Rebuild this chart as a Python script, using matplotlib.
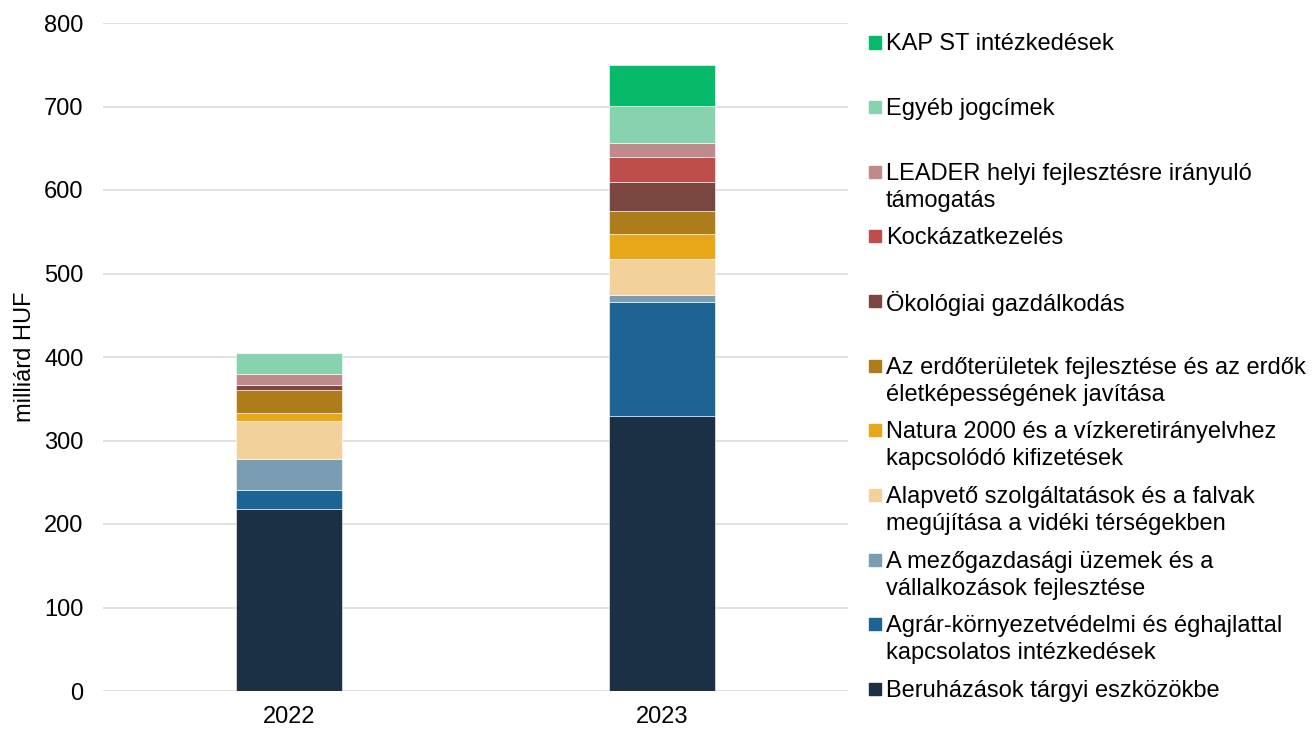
import matplotlib
matplotlib.use("Agg")
import matplotlib.pyplot as plt
from matplotlib.patches import Rectangle
import numpy as np

plt.rcParams['font.family'] = ['Liberation Sans', 'DejaVu Sans']

years = ["2022", "2023"]
series_names = [
    "Beruházások tárgyi eszközökbe",
    "Agrár-környezetvédelmi és éghajlattal\nkapcsolatos intézkedések",
    "A mezőgazdasági üzemek és a\nvállalkozások fejlesztése",
    "Alapvető szolgáltatások és a falvak\nmegújítása a vidéki térségekben",
    "Natura 2000 és a vízkeretirányelvhez\nkapcsolódó kifizetések",
    "Az erdőterületek fejlesztése és az erdők\néletképességének javítása",
    "Ökológiai gazdálkodás",
    "Kockázatkezelés",
    "LEADER helyi fejlesztésre irányuló\ntámogatás",
    "Egyéb jogcímek",
    "KAP ST intézkedések",
]
beruhazasok = [217.6, 329.3]
agrar = [23.5, 136.2]
mezogazdasagi = [36.7, 8.4]
alapveto = [45.6, 43.5]
natura = [9.5, 29.9]
erdo = [27.6, 27.2]
okologiai = [6.0, 35.5]
kockazat = [0.0, 29.9]
leader = [13.5, 16.7]
egyeb = [24.4, 44.0]
kap_st = [0.0, 49.1]
series_values = [beruhazasok, agrar, mezogazdasagi, alapveto, natura, erdo,
                 okologiai, kockazat, leader, egyeb, kap_st]
colors = ["#1B3045", "#1D6494", "#7B9DB2", "#F2D19B", "#E8A619", "#AD7D1B",
          "#794740", "#BD4E4C", "#BE8B8A", "#87D3AF", "#07BA69"]
yticks = [0, 100, 200, 300, 400, 500, 600, 700, 800]

W, H = 1314, 729
fig = plt.figure(figsize=(W / 100, H / 100), dpi=100)
ax = fig.add_axes([103 / W, 1 - 691 / H, (848 - 103) / W, (691 - 23) / H])

x = np.arange(len(years))
bottom = np.zeros(len(years))
for vals, col in zip(series_values, colors):
    v = np.array(vals)
    ax.bar(x, v, 0.285, bottom=bottom, color=col, edgecolor='white',
           linewidth=0.4, zorder=3)
    bottom += v

ax.set_xlim(-0.5, 1.5)
ax.set_ylim(0, 800)
ax.set_yticks(yticks)
ax.set_xticks(x)
ax.set_xticklabels(years)
ax.tick_params(axis='both', length=0, labelsize=17, colors='black')
ax.tick_params(axis='y', pad=14)
ax.tick_params(axis='x', pad=11)
ax.grid(axis='y', color='#D9D9D9', linewidth=1.1, zorder=0)
for s in ax.spines.values():
    s.set_visible(False)
ax.set_ylabel("milliárd HUF", fontsize=17)
ax.yaxis.set_label_coords(36 / W, 1 - 357 / H, transform=fig.transFigure)

# manual legend (top = last series)
n = len(series_names)
for i, idx in enumerate(range(n - 1, -1, -1)):
    yc = 42.5 + i * 64.65
    fig.patches.append(Rectangle((869 / W, 1 - (yc + 6) / H), 12 / W, 12 / H,
                                 transform=fig.transFigure, color=colors[idx]))
    for j, line in enumerate(series_names[idx].split("\n")):
        fig.text(886 / W, 1 - (yc + 2 + j * 27) / H, line, fontsize=17,
                 va='center', ha='left', color='black')

fig.savefig("out.png", dpi=100)
